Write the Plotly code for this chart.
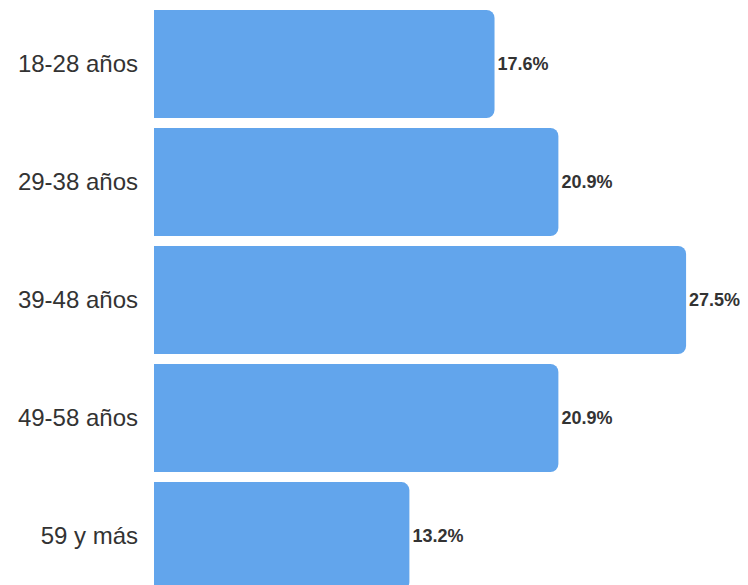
import plotly.graph_objects as go

categories = ["18-28 años", "29-38 años", "39-48 años", "49-58 años", "59 y más"]
values = [17.6, 20.9, 27.5, 20.9, 13.2]
value_labels = ["17.6%", "20.9%", "27.5%", "20.9%", "13.2%"]

fig = go.Figure(go.Bar(
    y=categories,
    x=values,
    orientation="h",
    marker=dict(color="#62a5ec", line=dict(width=0), cornerradius=8),
    text=value_labels,
    textposition="outside",
    textfont=dict(family="Liberation Sans, Arial, sans-serif", size=18, color="#333333", weight="bold"),
    cliponaxis=False,
))

fig.update_layout(
    width=740, height=577,
    margin=dict(l=146, r=0, t=0, b=0),
    paper_bgcolor="white", plot_bgcolor="white",
    bargap=0.085,
    showlegend=False,
    font=dict(family="Liberation Sans, Arial, sans-serif"),
    xaxis=dict(range=[0, 30.7], visible=False),
    yaxis=dict(
        range=[4.415, -0.4746],
        tickfont=dict(size=24, color="#333333"),
        ticks="", showgrid=False, zeroline=False, showline=False,
        ticklabelstandoff=15,
    ),
)

fig.write_html("out.html")
